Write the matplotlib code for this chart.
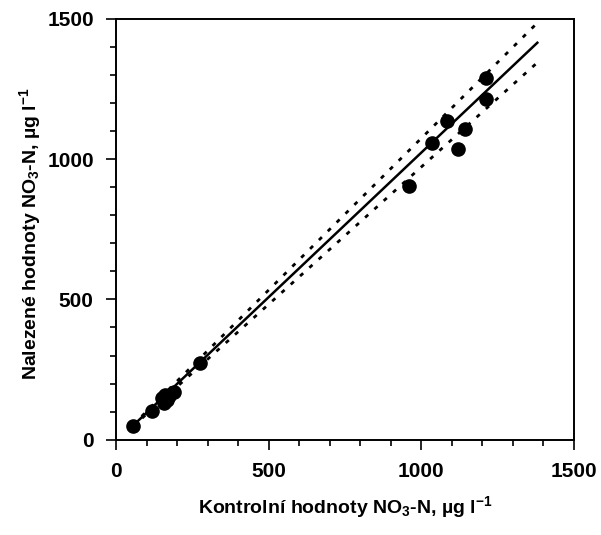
import matplotlib
matplotlib.use("Agg")
import matplotlib.pyplot as plt
from matplotlib.ticker import MultipleLocator
import numpy as np

# Values
kontrolni = [55, 118, 150, 158, 162, 168, 175, 190, 275,
             961, 1036, 1085, 1121, 1144, 1212, 1212]
nalezene = [50, 103, 150, 130, 160, 140, 155, 171, 274,
            905, 1058, 1137, 1037, 1108, 1290, 1215]

# regression line as drawn in the reference
fit_intercept = -7
fit_slope = 1.03
fit_range = [55, 1380]
band = 0.05  # dotted lines, +-5 %

plt.rcParams["font.family"] = ["Liberation Sans", "DejaVu Sans"]
plt.rcParams["font.weight"] = "bold"
plt.rcParams["axes.labelweight"] = "bold"
plt.rcParams["mathtext.fontset"] = "custom"
plt.rcParams["mathtext.rm"] = "Liberation Sans:bold"
plt.rcParams["mathtext.it"] = "Liberation Sans:bold"
plt.rcParams["mathtext.bf"] = "Liberation Sans:bold"


def main():
    fig = plt.figure(figsize=(6.01, 5.35), dpi=100)
    ax = fig.add_axes([0.193, 0.178, 0.762, 0.787])

    lx = np.array(fit_range, dtype=float)
    ly = fit_intercept + fit_slope * lx
    ax.plot(lx, ly, color="black", lw=1.8)
    ax.plot(lx, ly * (1 + band), color="black", lw=2, ls=(0, (1.5, 3)))
    ax.plot(lx, ly * (1 - band), color="black", lw=2, ls=(0, (1.5, 3)))

    ax.plot(kontrolni, nalezene, "o", color="black", ms=9.5)

    ax.set_xlim(0, 1500)
    ax.set_ylim(0, 1500)
    ax.xaxis.set_major_locator(MultipleLocator(500))
    ax.yaxis.set_major_locator(MultipleLocator(500))
    ax.xaxis.set_minor_locator(MultipleLocator(100))
    ax.yaxis.set_minor_locator(MultipleLocator(100))
    ax.tick_params(which="major", direction="out", length=7, width=1.2,
                   labelsize=15, pad=9)
    ax.tick_params(which="minor", direction="out", length=4, width=1.2)
    for s in ax.spines.values():
        s.set_linewidth(1.4)

    ax.set_xlabel(r"Kontrolní hodnoty NO$_3$-N, µg l$^{-1}$", fontsize=14)
    ax.set_ylabel(r"Nalezené hodnoty NO$_3$-N, µg l$^{-1}$", fontsize=14)
    ax.xaxis.set_label_coords(0.5, -0.13)
    ax.yaxis.set_label_coords(-0.16, 0.49)

    fig.savefig("out.png", dpi=100)


if __name__ == "__main__":
    main()
